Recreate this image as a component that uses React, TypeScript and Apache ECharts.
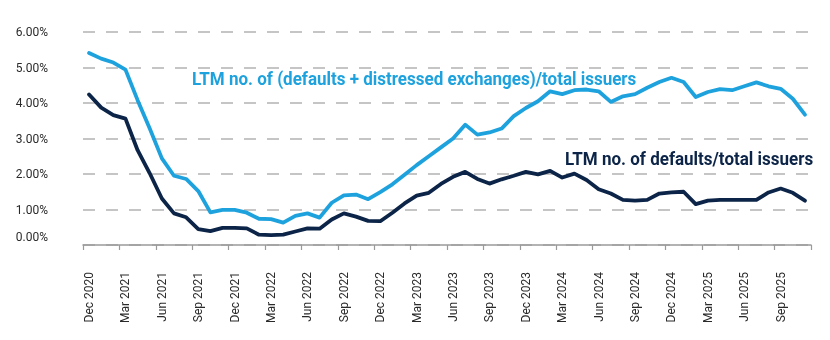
import React, { useEffect, useRef } from 'react';
import * as echarts from 'echarts';

const months = [
  'Dec 2020',
  'Jan 2021', 'Feb 2021', 'Mar 2021', 'Apr 2021', 'May 2021', 'Jun 2021', 'Jul 2021', 'Aug 2021', 'Sep 2021', 'Oct 2021', 'Nov 2021', 'Dec 2021',
  'Jan 2022', 'Feb 2022', 'Mar 2022', 'Apr 2022', 'May 2022', 'Jun 2022', 'Jul 2022', 'Aug 2022', 'Sep 2022', 'Oct 2022', 'Nov 2022', 'Dec 2022',
  'Jan 2023', 'Feb 2023', 'Mar 2023', 'Apr 2023', 'May 2023', 'Jun 2023', 'Jul 2023', 'Aug 2023', 'Sep 2023', 'Oct 2023', 'Nov 2023', 'Dec 2023',
  'Jan 2024', 'Feb 2024', 'Mar 2024', 'Apr 2024', 'May 2024', 'Jun 2024', 'Jul 2024', 'Aug 2024', 'Sep 2024', 'Oct 2024', 'Nov 2024', 'Dec 2024',
  'Jan 2025', 'Feb 2025', 'Mar 2025', 'Apr 2025', 'May 2025', 'Jun 2025', 'Jul 2025', 'Aug 2025', 'Sep 2025', 'Oct 2025', 'Nov 2025',
];

const defaultsPlusDistressed = [
  5.41, 5.25, 5.14, 4.94, 4.08, 3.28, 2.44, 1.95, 1.86, 1.52, 0.92, 0.99, 0.99,
  0.91, 0.74, 0.73, 0.63, 0.82, 0.89, 0.77, 1.19, 1.40, 1.42, 1.29, 1.49,
  1.71, 1.98, 2.25, 2.50, 2.75, 3.00, 3.39, 3.11, 3.17, 3.28, 3.63, 3.86,
  4.05, 4.33, 4.25, 4.36, 4.38, 4.33, 4.03, 4.19, 4.25, 4.43, 4.59, 4.71,
  4.59, 4.17, 4.31, 4.39, 4.36, 4.47, 4.58, 4.47, 4.40, 4.12, 3.67,
];

const defaultsOnly = [
  4.24, 3.87, 3.66, 3.56, 2.67, 2.02, 1.31, 0.89, 0.78, 0.45, 0.39, 0.48, 0.48,
  0.47, 0.29, 0.28, 0.29, 0.38, 0.47, 0.46, 0.72, 0.89, 0.80, 0.68, 0.67,
  0.91, 1.17, 1.39, 1.47, 1.72, 1.92, 2.06, 1.86, 1.73, 1.85, 1.95, 2.06,
  1.99, 2.09, 1.90, 2.01, 1.83, 1.57, 1.45, 1.27, 1.25, 1.27, 1.45, 1.48,
  1.50, 1.15, 1.25, 1.27, 1.27, 1.27, 1.27, 1.48, 1.59, 1.47, 1.25,
];

const seriesNames = [
  'LTM no. of (defaults + distressed exchanges)/total issuers',
  'LTM no. of defaults/total issuers',
];

const BLUE = '#1ea2de';
const NAVY = '#0b2447';

export default function App() {
  const ref = useRef<HTMLDivElement>(null);

  useEffect(() => {
    if (!ref.current) return;
    const chart = echarts.init(ref.current, undefined, { renderer: 'svg' });
    chart.setOption({
      animation: false,
      grid: { left: 83, right: 19, top: 32, bottom: 95 },
      xAxis: {
        type: 'category',
        data: months,
        boundaryGap: true,
        axisLine: { show: true, lineStyle: { color: '#9a9a9a', width: 1.5 } },
        axisTick: { show: true, interval: 2, length: 5, lineStyle: { color: '#9a9a9a', width: 1.2 } },
        axisLabel: {
          interval: 2,
          rotate: 90,
          margin: 27,
          color: '#2a2a2a',
          fontFamily: 'Roboto',
          fontSize: 12,
        },
        splitLine: { show: false },
      },
      yAxis: {
        type: 'value',
        min: 0,
        max: 6,
        interval: 1,
        axisLine: { show: false },
        axisTick: { show: false },
        axisLabel: {
          margin: 35,
          color: '#2a2a2a',
          fontFamily: 'Roboto',
          fontSize: 12,
          formatter: (v: number) => (v === 0 ? '{z|0.00%}' : v.toFixed(2) + '%'),
          rich: {
            z: { fontFamily: 'Roboto', fontSize: 12, color: '#2a2a2a', padding: [0, 0, 16, 0] },
          },
        },
        splitLine: {
          show: true,
          lineStyle: { color: '#b3b3b3', width: 1.5, type: [12, 11] },
        },
      },
      series: [
        {
          name: seriesNames[0],
          type: 'line',
          data: defaultsPlusDistressed,
          showSymbol: false,
          symbol: 'none',
          lineStyle: { color: BLUE, width: 3.8, join: 'round', cap: 'round' },
          itemStyle: { color: BLUE },
          z: 3,
        },
        {
          name: seriesNames[1],
          type: 'line',
          data: defaultsOnly,
          showSymbol: false,
          symbol: 'none',
          lineStyle: { color: NAVY, width: 3.8, join: 'round', cap: 'round' },
          itemStyle: { color: NAVY },
          z: 4,
        },
      ],
      graphic: [
        {
          type: 'text',
          x: 192,
          y: 79,
          scaleX: 0.945,
          style: {
            text: seriesNames[0],
            fill: BLUE,
            font: 'bold 18px Roboto',
            textAlign: 'left',
            textVerticalAlign: 'middle',
          },
        },
        {
          type: 'text',
          x: 565,
          y: 159,
          scaleX: 0.945,
          style: {
            text: seriesNames[1],
            fill: NAVY,
            font: 'bold 18px Roboto',
            textAlign: 'left',
            textVerticalAlign: 'middle',
          },
        },
      ],
    });
    return () => chart.dispose();
  }, []);

  return (
    <div
      ref={ref}
      style={{ position: 'fixed', left: 0, top: 0, width: 830, height: 340 }}
    />
  );
}
